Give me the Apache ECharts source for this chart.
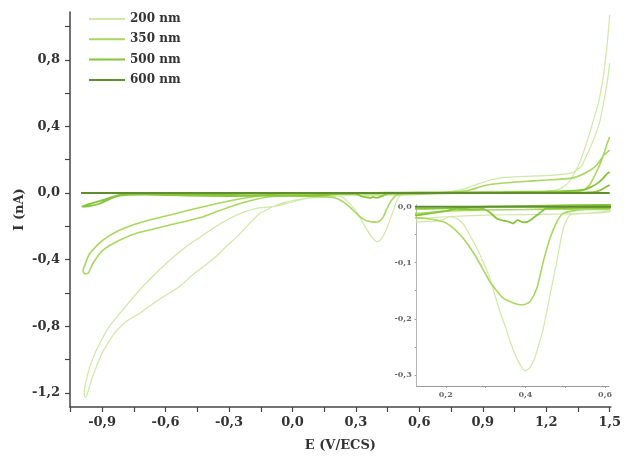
<!DOCTYPE html>
<html><head><meta charset="utf-8">
<script src="https://cdn.jsdelivr.net/npm/echarts@6/dist/echarts.min.js"></script>
<style>html,body{margin:0;padding:0;background:#fff}#c{width:624px;height:464px}</style>
</head><body><div id="c"></div>
<script>
const seriesNames = ['200 nm', '350 nm', '500 nm', '600 nm'];
const seriesColors = ['#cfe8a6', '#a9d75f', '#86c43a', '#5e8f2c'];

// 200 nm : cathodic sweep from 1.5 V, then anodic sweep back to 1.5 V
const e200 = [1.5,1.49,1.478,1.465,1.45,1.44,1.426,1.41,1.395,1.38,1.363,1.34,1.315,1.29,1.258,1.22,1.15,1.05,0.95,0.85,
  0.75,0.65,0.58,0.545,0.512,0.495,0.479,0.462,0.445,0.43,0.42,0.41,0.399,0.387,0.375,0.362,0.35,0.336,0.323,0.311,
  0.295,0.278,0.26,0.245,0.228,0.21,0.19,0.17,0.135,0.1,0.05,0.0,-0.04,-0.08,-0.121,-0.153,-0.185,-0.216,-0.26,-0.311,
  -0.36,-0.422,-0.48,-0.532,-0.6,-0.658,-0.72,-0.785,-0.83,-0.864,-0.9,-0.927,-0.95,-0.965,-0.978,
  -0.985,-0.98,-0.958,-0.93,-0.895,-0.86,-0.816,-0.737,-0.66,-0.579,-0.5,-0.437,-0.36,-0.295,-0.23,-0.169,-0.12,-0.074,-0.02,0.036,
  0.08,0.13,0.2,0.3,0.4,0.5,0.6,0.7,0.8,0.842,0.88,0.936,1.0,1.1,1.236,1.315,1.34,1.365,1.4,1.43,1.455,1.474,1.49,1.5];
const i200 = [1.07,0.92,0.78,0.66,0.56,0.51,0.45,0.38,0.318,0.26,0.198,0.135,0.078,0.045,0.022,0.015,0.012,0.01,0.01,0.006,
  0.003,-0.005,-0.01,-0.012,-0.015,-0.039,-0.098,-0.157,-0.217,-0.255,-0.276,-0.288,-0.293,-0.282,-0.265,-0.241,-0.215,-0.187,-0.157,-0.128,
  -0.1,-0.074,-0.05,-0.032,-0.021,-0.018,-0.024,-0.026,-0.027,-0.028,-0.035,-0.045,-0.058,-0.075,-0.1,-0.122,-0.16,-0.2,-0.26,-0.318,
  -0.38,-0.443,-0.5,-0.56,-0.615,-0.663,-0.72,-0.77,-0.825,-0.883,-0.96,-1.043,-1.12,-1.185,-1.228,
  -1.21,-1.15,-1.043,-0.95,-0.863,-0.79,-0.723,-0.602,-0.5,-0.402,-0.32,-0.265,-0.2,-0.152,-0.115,-0.092,-0.085,-0.078,-0.06,-0.042,
  -0.03,-0.022,-0.018,-0.015,-0.014,-0.013,-0.01,0.0,0.02,0.038,0.055,0.078,0.094,0.1,0.108,0.118,0.135,0.16,0.25,0.34,0.438,0.56,0.68,0.78];

// 350 nm
const e350 = [1.5,1.485,1.473,1.458,1.442,1.425,1.41,1.395,1.378,1.35,1.3,1.2,1.0,0.8,0.65,0.55,0.53,0.495,0.479,0.462,
  0.445,0.429,0.412,0.4,0.387,0.37,0.344,0.311,0.278,0.256,0.236,0.215,0.194,0.16,0.13,0.08,0.0,-0.106,-0.2,-0.295,
  -0.422,-0.579,-0.737,-0.816,-0.895,-0.943,-0.966,-0.982,
  -0.99,-0.985,-0.958,-0.895,-0.816,-0.721,-0.579,-0.422,-0.295,-0.185,-0.106,0.0,0.13,0.2,0.3,0.4,0.5,0.6,0.7,0.8,
  0.84,0.88,0.921,1.0,1.078,1.2,1.315,1.36,1.41,1.44,1.473,1.5];
const i350 = [0.338,0.285,0.238,0.185,0.138,0.095,0.058,0.035,0.018,0.01,0.008,0.006,0.004,0.002,-0.002,-0.005,-0.006,-0.012,-0.027,-0.056,
  -0.098,-0.145,-0.169,-0.174,-0.175,-0.172,-0.163,-0.134,-0.092,-0.068,-0.05,-0.036,-0.027,-0.022,-0.02,-0.02,-0.018,-0.022,-0.046,-0.082,
  -0.142,-0.192,-0.242,-0.282,-0.342,-0.422,-0.482,-0.485,
  -0.47,-0.443,-0.362,-0.282,-0.222,-0.178,-0.132,-0.082,-0.046,-0.022,-0.012,-0.01,-0.012,-0.008,-0.006,-0.005,-0.004,-0.005,0.002,0.01,
  0.018,0.035,0.048,0.06,0.068,0.078,0.088,0.105,0.138,0.17,0.228,0.258];

// 500 nm
const e500 = [1.5,1.48,1.46,1.44,1.4,1.2,1.0,0.8,0.6,0.453,0.435,0.42,0.405,0.395,0.38,0.369,0.359,0.345,0.328,0.31,
  0.294,0.26,0.228,0.2,0.16,0.13,0.05,-0.1,-0.3,-0.5,-0.7,-0.791,-0.838,-0.917,-0.96,-0.996,
  -0.975,-0.949,-0.886,-0.822,-0.75,-0.6,-0.5,-0.4,-0.3,-0.2,-0.1,0.0,0.1,0.2,0.3,0.45,0.6,0.8,1.0,1.2,
  1.3,1.38,1.41,1.442,1.47,1.489,1.5];
const i500 = [0.048,0.035,0.02,0.01,0.004,0.002,0.0,-0.001,-0.002,-0.003,-0.012,-0.02,-0.027,-0.028,-0.024,-0.03,-0.027,-0.025,-0.021,-0.01,
  -0.004,-0.005,-0.004,-0.008,-0.012,-0.015,-0.017,-0.015,-0.018,-0.015,-0.01,-0.012,-0.022,-0.066,-0.078,-0.082,
  -0.072,-0.062,-0.038,-0.012,-0.006,-0.008,-0.005,-0.01,-0.006,-0.004,-0.003,-0.002,-0.004,-0.003,0.0,0.002,0.003,0.004,0.005,0.008,
  0.012,0.02,0.035,0.058,0.09,0.118,0.125];

// 600 nm
const e600 = [-1.0, -0.5, 0.0, 0.5, 1.0, 1.5];
const i600 = [0, 0, 0, 0, 0, 0];

// ticks
const xMainLabels = [-0.9,-0.6,-0.3,0,0.3,0.6,0.9,1.2,1.5];
const xMainTicks = [-1.05,-0.9,-0.75,-0.6,-0.45,-0.3,-0.15,0,0.15,0.3,0.45,0.6,0.75,0.9,1.05,1.2,1.35,1.5];
const yMainLabels = [-1.2,-0.8,-0.4,0,0.4,0.8];
const yMainTicks = [-1.2,-1.0,-0.8,-0.6,-0.4,-0.2,0,0.2,0.4,0.6,0.8,1.0];
const xInsetLabels = [0.2,0.4,0.6];
const xInsetTicks = [0.2,0.3,0.4,0.5,0.6];
const yInsetLabels = [0,-0.1,-0.2,-0.3];
const yInsetTicks = [0,-0.05,-0.1,-0.15,-0.2,-0.25,-0.3];

const allE = [e200, e350, e500, e600];
const allI = [i200, i350, i500, i600];
const widths = [1.2, 1.6, 1.8, 2];

function pairs(e, i) { return e.map((x, k) => [x, i[k]]); }
const fmt = v => (Math.abs(v) < 1e-9 ? 0 : v).toFixed(1).replace('.', ',');
const FONT = 'DejaVu Serif';

const series = [];
[0, 1].forEach(g => {
  seriesNames.forEach((n, k) => {
    series.push({
      name: n, type: 'line', xAxisIndex: g, yAxisIndex: g,
      data: pairs(allE[k], allI[k]),
      symbol: 'none', showSymbol: false, smooth: 0.2, clip: true,
      lineStyle: { color: seriesColors[k], width: widths[k] },
      itemStyle: { color: seriesColors[k] },
      emphasis: { disabled: true }, silent: true, z: 2 + k + g * 10
    });
  });
});

const mainAxisColor = '#444';
const insetAxisColor = '#999';

const option = {
  animation: false,
  backgroundColor: '#fff',
  legend: {
    data: seriesNames, orient: 'vertical', left: 89, top: 12, padding: 0,
    icon: 'rect', itemWidth: 36, itemHeight: 2, itemGap: 6.3,
    textStyle: { fontFamily: FONT, fontWeight: 'bold', fontSize: 12, lineHeight: 14, color: '#333' }
  },
  grid: [
    { left: 70, top: 12, width: 541.5, height: 395, containLabel: false },
    { left: 416.7, top: 205, width: 192.3, height: 181, show: true, backgroundColor: '#fff', borderWidth: 0, z: 5 }
  ],
  xAxis: [
    {
      type: 'value', gridIndex: 0, min: -1.052, max: 1.505,
      axisLine: { show: true, onZero: false, lineStyle: { color: mainAxisColor, width: 1.5 } },
      axisTick: { show: true, inside: false, length: 5, customValues: xMainTicks, lineStyle: { color: mainAxisColor, width: 1.2 } },
      axisLabel: { customValues: xMainLabels, formatter: fmt, fontFamily: FONT, fontWeight: 'bold', fontSize: 13, color: '#333', margin: 9 },
      splitLine: { show: false },
      name: 'E (V/ECS)', nameLocation: 'middle', nameGap: 32, nameMoveOverlap: false,
      nameTextStyle: { fontFamily: FONT, fontWeight: 'bold', fontSize: 13, color: '#333' }
    },
    {
      type: 'value', gridIndex: 1, min: 0.127, max: 0.61,
      axisLine: { show: true, onZero: false, lineStyle: { color: insetAxisColor, width: 1 } },
      axisTick: { show: true, inside: false, length: 2, customValues: xInsetTicks, lineStyle: { color: insetAxisColor, width: 1 } },
      axisLabel: { customValues: xInsetLabels, formatter: fmt, fontFamily: FONT, fontWeight: 'bold', fontSize: 8, color: '#666', margin: 5 },
      splitLine: { show: false }
    }
  ],
  yAxis: [
    {
      type: 'value', gridIndex: 0, min: -1.285, max: 1.087,
      axisLine: { show: true, onZero: false, lineStyle: { color: mainAxisColor, width: 1.5 } },
      axisTick: { show: true, inside: false, length: 5, customValues: yMainTicks, lineStyle: { color: mainAxisColor, width: 1.2 } },
      axisLabel: { customValues: yMainLabels, formatter: fmt, fontFamily: FONT, fontWeight: 'bold', fontSize: 13, color: '#333', margin: 10 },
      splitLine: { show: false },
      name: 'I (nA)', nameLocation: 'middle', nameGap: 44, nameMoveOverlap: false,
      nameTextStyle: { fontFamily: FONT, fontWeight: 'bold', fontSize: 13, color: '#333' }
    },
    {
      type: 'value', gridIndex: 1, min: -0.32, max: 0.003,
      axisLine: { show: true, onZero: false, lineStyle: { color: insetAxisColor, width: 1 } },
      axisTick: { show: true, inside: false, length: 2, customValues: yInsetTicks, lineStyle: { color: insetAxisColor, width: 1 } },
      axisLabel: { customValues: yInsetLabels, formatter: fmt, fontFamily: FONT, fontWeight: 'bold', fontSize: 8, color: '#666', margin: 5 },
      splitLine: { show: false }
    }
  ],
  series: series
};

const chart = echarts.init(document.getElementById('c'), null, { renderer: 'canvas' });
chart.setOption(option);
</script>
</body></html>
